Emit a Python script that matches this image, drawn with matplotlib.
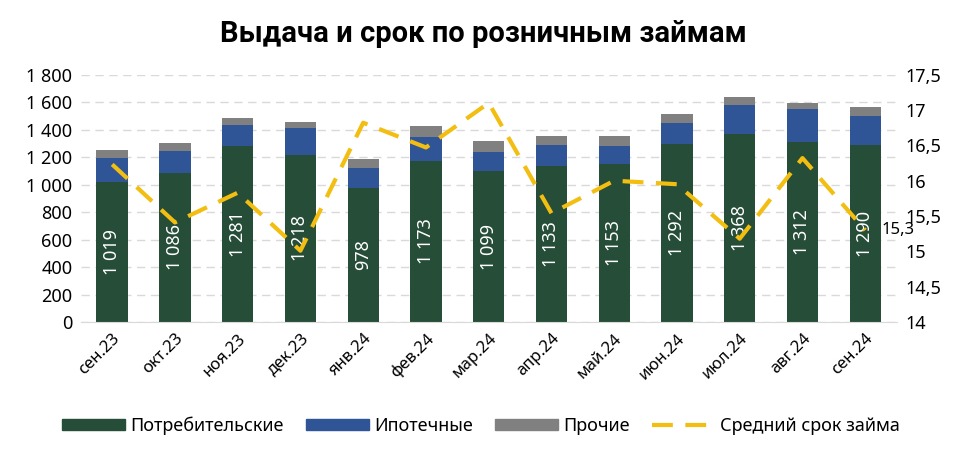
import matplotlib

matplotlib.use("Agg")
import matplotlib.pyplot as plt
from matplotlib.patches import Patch
from matplotlib.lines import Line2D
import numpy as np

plt.rcParams["font.family"] = ["Noto Sans", "DejaVu Sans"]

months = ["сен.23", "окт.23", "ноя.23", "дек.23", "янв.24", "фев.24", "мар.24",
          "апр.24", "май.24", "июн.24", "июл.24", "авг.24", "сен.24"]
consumer = [1019, 1086, 1281, 1218, 978, 1173, 1099, 1133, 1153, 1292, 1368, 1312, 1290]
mortgage = [174, 158, 153, 194, 145, 173, 140, 157, 127, 154, 212, 238, 210]
other = [58, 57, 51, 44, 63, 81, 78, 63, 73, 68, 58, 47, 63]
avg_term = [16.23, 15.41, 15.83, 15.01, 16.82, 16.47, 17.1, 15.54, 16.0, 15.95, 15.18, 16.32, 15.3]

C_GREEN = "#264D38"
C_BLUE = "#2F5597"
C_GREY = "#808080"
C_YELLOW = "#F2BE12"


def fmt_num(v):
    return f"{v:,}".replace(",", " ")


fig = plt.figure(figsize=(9.62, 4.55), dpi=100)
ax = fig.add_axes([0.084, 0.292, 0.848, 0.544])
x = np.arange(len(months))
cons = np.array(consumer)
mort = np.array(mortgage)

ax.bar(x, cons, width=0.5, color=C_GREEN, zorder=2)
ax.bar(x, mort, width=0.5, bottom=cons, color=C_BLUE, zorder=2)
ax.bar(x, other, width=0.5, bottom=cons + mort, color=C_GREY, zorder=2)

for xi, v in zip(x, consumer):
    ax.text(xi, v / 2, fmt_num(v), rotation=90, ha="center", va="center",
            color="white", fontsize=13, zorder=3)

ax.set_xlim(-0.5, len(months) - 0.5)
ax.set_ylim(0, 1800)
ax.set_yticks(np.arange(0, 1801, 200))
ax.set_yticklabels([fmt_num(v) for v in range(0, 1801, 200)], fontsize=13)
ax.set_xticks(x)
ax.set_xticklabels(months, rotation=45, ha="right", rotation_mode="anchor", fontsize=12)
ax.tick_params(length=0, pad=6)
ax.grid(axis="y", color="#D9D9D9", linestyle=(0, (6, 4)), linewidth=1, zorder=0)
for s in ["top", "right", "left"]:
    ax.spines[s].set_visible(False)
ax.spines["bottom"].set_color("#D9D9D9")

ax2 = ax.twinx()
ax2.plot(x, avg_term, color=C_YELLOW, linewidth=3, linestyle=(0, (5, 3)), zorder=4)
ax2.set_ylim(14, 17.5)
rt = np.arange(14, 17.51, 0.5)
ax2.set_yticks(rt)
ax2.set_yticklabels([f"{v:g}".replace(".", ",") for v in rt], fontsize=13)
ax2.tick_params(length=0, pad=6)
for s in ax2.spines.values():
    s.set_visible(False)
ax2.text(x[-1] + 0.26, avg_term[-1], f"{avg_term[-1]:g}".replace(".", ","),
         ha="left", va="center", fontsize=12)

fig.text(0.502, 0.925, "Выдача и срок по розничным займам", ha="center", va="center",
         fontsize=21, fontweight="bold", family=["Roboto", "DejaVu Sans"])

handles = [Patch(color=C_GREEN), Patch(color=C_BLUE), Patch(color=C_GREY),
           Line2D([0], [0], color=C_YELLOW, linewidth=3, linestyle=(0, (5, 3)))]
labels = ["Потребительские", "Ипотечные", "Прочие", "Средний срок займа"]
fig.legend(handles, labels, loc="center", bbox_to_anchor=(0.5, 0.064), ncol=4,
           frameon=False, fontsize=13, handlelength=3.5, handleheight=0.6,
           columnspacing=1.2, handletextpad=0.3)

fig.savefig("out.png", dpi=100)
